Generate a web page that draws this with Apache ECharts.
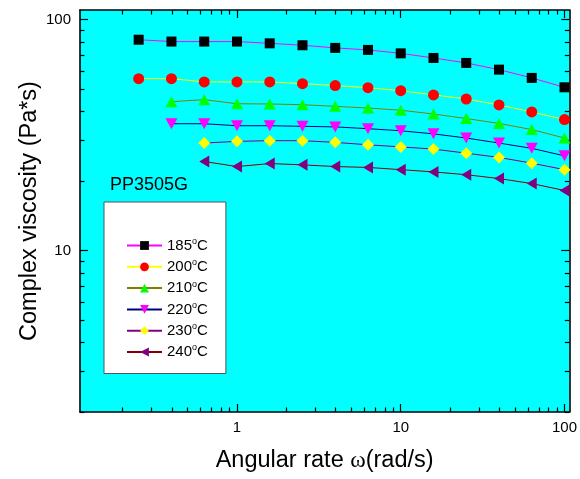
<!DOCTYPE html>
<html>
<head>
<meta charset="utf-8">
<script src="https://cdn.jsdelivr.net/npm/echarts@6/dist/echarts.min.js"></script>
<style>html,body{margin:0;padding:0;background:#fff}#c{width:580px;height:479px}</style>
</head>
<body>
<div id="c"></div>
<script>
// Angular rate (rad/s)
const omega = [0.251, 0.398, 0.631, 1, 1.585, 2.512, 3.981, 6.31, 10, 15.85, 25.12, 39.81, 63.1, 100];
// Complex viscosity (Pa*s) per temperature; series start at omega index given
const v185 = [81.8, 80.3, 80.3, 80.3, 78.9, 77.4, 75.4, 73.9, 71.4, 68.2, 64.9, 60.7, 55.9, 50.9];
const v200 = [55.5, 55.5, 53.7, 53.7, 53.7, 52.8, 51.8, 50.7, 49.2, 47.2, 45.3, 42.7, 39.8, 36.9];
const v210 = [44.1, 45.0, 43.2, 43.1, 42.8, 42.1, 41.4, 40.5, 39.0, 37.3, 35.5, 33.4, 30.7];
const v220 = [35.4, 35.4, 34.7, 34.7, 34.5, 34.3, 33.7, 33.0, 32.0, 30.7, 29.2, 27.7, 25.7];
const v230 = [29.2, 29.7, 29.9, 29.9, 29.4, 28.7, 28.1, 27.5, 26.4, 25.3, 23.9, 22.4];
const v240 = [24.3, 23.1, 23.8, 23.5, 23.1, 22.9, 22.4, 21.9, 21.3, 20.5, 19.5, 18.2];
const seriesNames = ['185°C', '200°C', '210°C', '220°C', '230°C', '240°C'];
const startIdx = [0, 0, 1, 1, 2, 2];
const xMajor = [1, 10, 100];
const xMinor = [0.2,0.3,0.4,0.5,0.6,0.7,0.8,0.9,2,3,4,5,6,7,8,9,20,30,40,50,60,70,80,90];
const yMajor = [10, 100];
const yMinor = [2,3,4,5,6,7,8,9,20,30,40,50,60,70,80,90];
const sampleLabel = 'PP3505G';

const values = [v185, v200, v210, v220, v230, v240];
const styles = [
  {symbol:'rect', size:[10,10], color:'#000000', line:'#FF00FF'},
  {symbol:'circle', size:11, color:'#FF0000', line:'#FFFF00'},
  {symbol:'path://M5,0 L10,10 L0,10 Z', size:[12,11], color:'#00FF00', line:'#808000'},
  {symbol:'path://M0,0 L10,0 L5,10 Z', size:[12,11], color:'#FF00FF', line:'#000080'},
  {symbol:'diamond', size:[12,12], color:'#FFFF00', line:'#800080'},
  {symbol:'path://M0,5 L10,0 L10,10 Z', size:[10,12], color:'#800080', line:'#800000'}
];

const XMIN = 0.11, XMAX = 107, YMIN = 2, YMAX = 110;
const font = 'Liberation Sans, Arial, sans-serif';
const lineStyle = {color:'#000', width:1.6};

function xAx(pos, ticks, len, withLabel, withLine) {
  return {type:'log', logBase:10, min:XMIN, max:XMAX, position:pos, gridIndex:0,
    axisLine:{show:withLine, onZero:false, lineStyle:lineStyle},
    axisTick:{show:true, inside:true, length:len, customValues:ticks, lineStyle:{color:'#000', width:1.2}},
    axisLabel:{show:withLabel, customValues:xMajor, fontSize:15, color:'#000', fontFamily:font, margin:8},
    splitLine:{show:false}, minorTick:{show:false}, minorSplitLine:{show:false}};
}
function yAx(pos, ticks, len, withLabel, withLine) {
  return {type:'log', logBase:10, min:YMIN, max:YMAX, position:pos, gridIndex:0,
    axisLine:{show:withLine, onZero:false, lineStyle:lineStyle},
    axisTick:{show:true, inside:true, length:len, customValues:ticks, lineStyle:{color:'#000', width:1.2}},
    axisLabel:{show:withLabel, customValues:yMajor, fontSize:15, color:'#000', fontFamily:font, margin:9},
    splitLine:{show:false}, minorTick:{show:false}, minorSplitLine:{show:false}};
}

const xAxes = [
  Object.assign(xAx('bottom', xMajor, 8, true, true), {
    name:'Angular rate {w|ω}(rad/s)', nameLocation:'middle', nameGap:37,
    nameTextStyle:{fontSize:23.5, color:'#000', fontFamily:font, rich:{w:{fontSize:23.5, fontFamily:'Liberation Serif, serif', color:'#000'}}}
  }),
  xAx('top', xMajor, 8, false, true),
  xAx('bottom', xMinor, 4.5, false, false),
  xAx('top', xMinor, 4.5, false, false)
];
const yAxes = [
  Object.assign(yAx('left', yMajor, 8, true, true), {
    name:'Complex viscosity (Pa*s)', nameLocation:'middle', nameGap:38, nameRotate:90, nameMoveOverlap:false,
    nameTextStyle:{fontSize:23.5, color:'#000', fontFamily:font}
  }),
  yAx('right', yMajor, 8, false, true),
  yAx('left', yMinor, 4.5, false, false),
  yAx('right', yMinor, 4.5, false, false)
];

const series = values.map((vals, i) => ({
  name: seriesNames[i], type:'line', xAxisIndex:0, yAxisIndex:0,
  data: vals.map((v, j) => [omega[j + startIdx[i]], v]),
  symbol: styles[i].symbol, symbolSize: styles[i].size, showAllSymbol:true,
  itemStyle:{color:styles[i].color, borderWidth:0},
  lineStyle:{color:styles[i].line, width:1},
  emphasis:{disabled:true}
}));

const chart = echarts.init(document.getElementById('c'), null, {renderer:'canvas'});
chart.setOption({
  animation:false,
  backgroundColor:'#ffffff',
  grid:{left:80, right:7, top:10, bottom:67, show:true, backgroundColor:'#00FFFF', borderWidth:0, containLabel:false},
  title:{text:sampleLabel, left:110, top:176, padding:0, textStyle:{fontSize:18, fontWeight:'normal', color:'#000', fontFamily:font}},
  legend:{
    orient:'vertical', left:104, top:202, padding:[35, 18, 14, 22],
    backgroundColor:'#ffffff', borderColor:'#555555', borderWidth:1,
    itemWidth:35, itemHeight:11, itemGap:5.3,
    data: seriesNames,
    formatter: n => '{m|' + n.replace('°C', '}{sup|o}{m|C}'),
    textStyle:{fontSize:15, color:'#000', fontFamily:font,
      rich:{
        m:{fontSize:15, lineHeight:17, color:'#000', fontFamily:font},
        sup:{fontSize:9, lineHeight:2, verticalAlign:'top', color:'#000', fontFamily:font}
      }}
  },
  xAxis: xAxes,
  yAxis: yAxes,
  series: series
});
</script>
</body>
</html>
